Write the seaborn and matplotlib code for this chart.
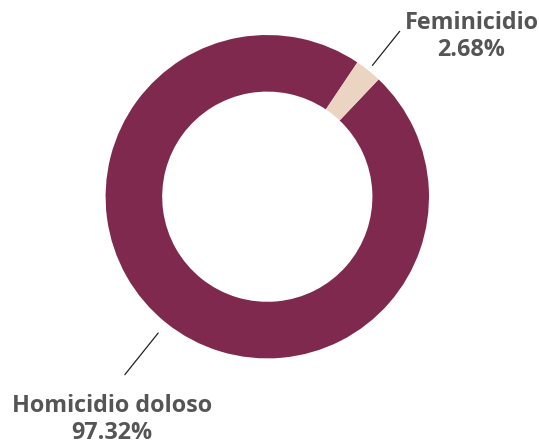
import numpy as np
import matplotlib
matplotlib.use("Agg")
import matplotlib.pyplot as plt
import seaborn as sns

# data
categories = ["Homicidio doloso", "Feminicidio"]
shares = [97.32, 2.68]
colors = ["#80294F", "#EBD5C2"]

sns.set_theme(style="white")
plt.rcParams['font.family'] = ['Open Sans', 'DejaVu Sans']

W, H = 539, 447
fig = plt.figure(figsize=(W / 100, H / 100), dpi=100)
ax = fig.add_axes([0, 0, 1, 1])

# donut centre / radius in pixels
cx, cy, rpx = 267.3, 196.7, 161.7

wedges, _ = ax.pie(shares, colors=colors, startangle=46.5, counterclock=False,
                   radius=1.0, wedgeprops=dict(width=0.35, linewidth=0))

ax.set_xlim(-cx / rpx, (W - cx) / rpx)
ax.set_ylim(-(H - cy) / rpx, cy / rpx)
ax.set_aspect('auto')
ax.axis('off')

text_color = "#555555"
# label settings: (line start r, line end r, text offset x, text offset y, ha, va)
label_cfg = {
    "Homicidio doloso": (1.08, 1.41, -0.08, -0.12, 'center', 'top'),
    "Feminicidio": (1.04, 1.31, 0.03, -0.03, 'left', 'center'),
}

for w, name, val in zip(wedges, categories, shares):
    mid = np.deg2rad((w.theta1 + w.theta2) / 2)
    r0, r1, dx, dy, ha, va = label_cfg[name]
    x0, y0 = r0 * np.cos(mid), r0 * np.sin(mid)
    x1, y1 = r1 * np.cos(mid), r1 * np.sin(mid)
    ax.plot([x0, x1], [y0, y1], color="#222222", lw=0.9)
    ax.text(x1 + dx, y1 + dy, f"{name}\n{val:.2f}%", ha=ha, va=va,
            multialignment='center', fontsize=16.8, fontweight='bold',
            color=text_color, linespacing=1.15)

fig.savefig("out.png", dpi=100)
